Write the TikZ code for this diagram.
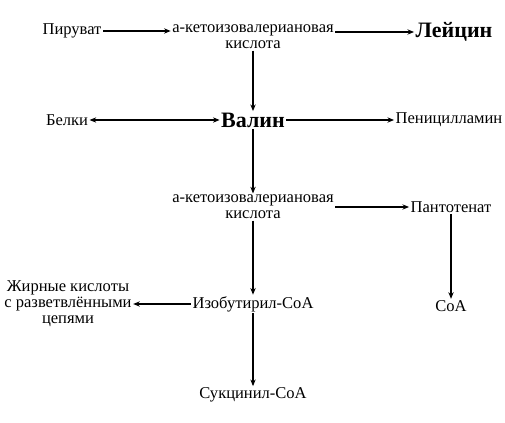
\documentclass[tikz,border=0pt]{standalone}
\usepackage{fontspec}
\setmainfont{Liberation Serif}
\usetikzlibrary{arrows.meta}

\begin{document}
\begin{tikzpicture}[x=0.75pt,y=-0.75pt,font=\fontsize{12.4}{12}\selectfont,>={Stealth[length=5pt,width=4pt]},
  met/.style={inner sep=1pt,align=center},
  key/.style={inner sep=1pt,font=\fontsize{16.5}{18}\selectfont\bfseries},
  flow/.style={->,line width=0.9pt}]
  \useasboundingbox (0,0) rectangle (505,423);
  % top row
  \node[met] (pir)   at (72,31)   {Пируват};
  \node[met] (keto1) at (253,37)  {а-кетоизовалериановая\\кислота};
  \node[key] (leu)   at (454,32)  {Лейцин};
  % valine row
  \node[met] (prot)  at (67,120)  {Белки};
  \node[key] (val)   at (253,120) {Валин};
  \node[met] (pen)   at (449,120) {Пеницилламин};
  % degradation
  \node[met] (keto2) at (253,207) {а-кетоизовалериановая\\кислота};
  \node[met] (pant)  at (451,207) {Пантотенат};
  \node[met] (ibut)  at (253,304) {Изобутирил-CoA};
  \node[met] (coa)   at (451,306) {CoA};
  \node[met] (fat)   at (68,304)  {Жирные кислоты\\с разветвлёнными\\цепями};
  \node[met] (succ)  at (253,395) {Сукцинил-CoA};

  \draw[flow] (pir.east) -- (pir.east -| keto1.west);
  \draw[flow] (keto1.east |- leu) -- (leu.west);
  \draw[flow] (keto1) -- (val);
  \draw[flow,<->] (prot) -- (val);
  \draw[flow] (val) -- (pen);
  \draw[flow] (val) -- (keto2);
  \draw[flow] (keto2) -- (pant);
  \draw[flow] (pant) -- (coa);
  \draw[flow] (keto2) -- (ibut);
  \draw[flow] (ibut) -- (fat);
  \draw[flow] (ibut) -- (succ);
\end{tikzpicture}
\end{document}
